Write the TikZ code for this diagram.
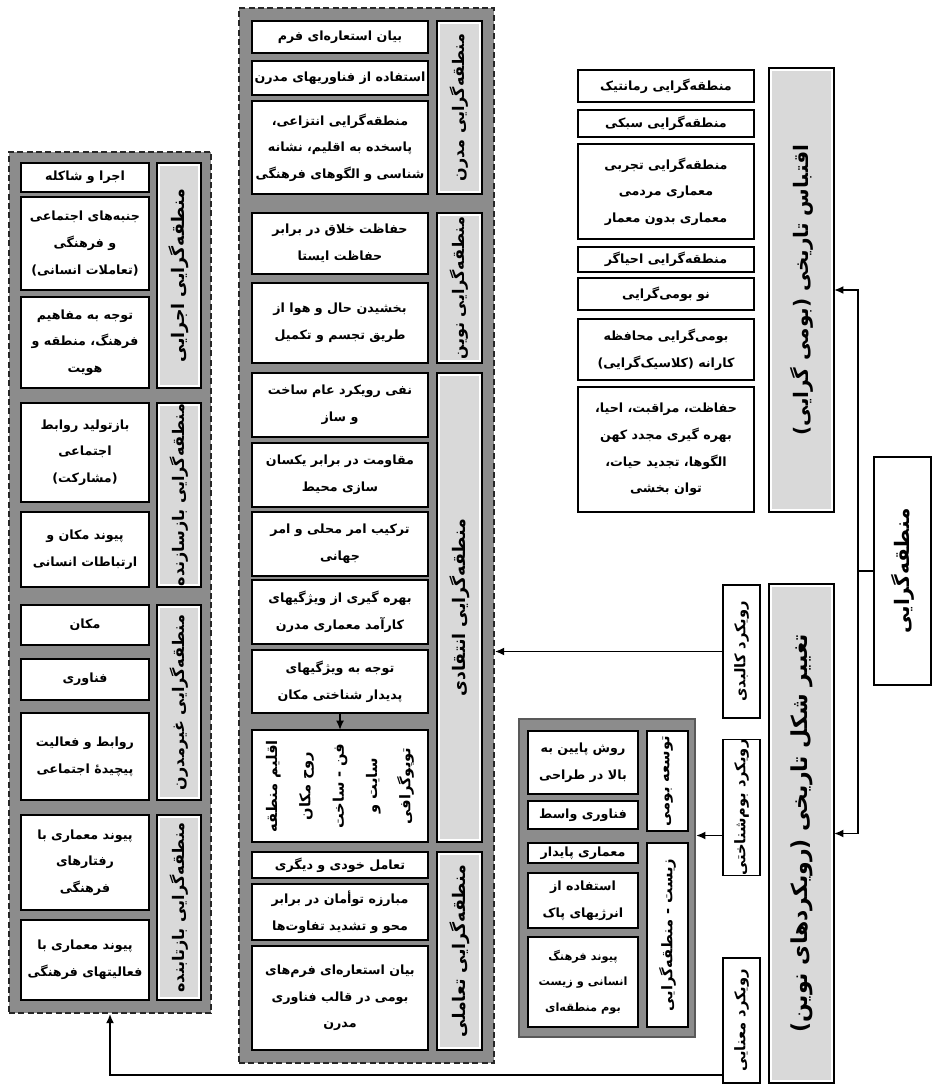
\documentclass[tikz,border=0pt]{standalone}
\usepackage{fontspec}
\usepackage{tikz}
\usetikzlibrary{arrows.meta}
\newfontfamily\arabicfont[Script=Arabic]{DejaVu Sans}
\TeXXeTstate=1
\definecolor{boxgray}{RGB}{140,140,140}
\definecolor{lblgray}{RGB}{217,217,217}
\newcommand{\fa}[1]{\beginR#1\endR}
% box from corner (x1,y1) to (x2,y2), pixels
\newcommand{\mkbox}[7][cell]{\node[#1, minimum width={(#5-#3)*0.75pt}, minimum height={(#6-#4)*0.75pt}] (#2) at ({(#3+#5)/2},{(#4+#6)/2}) {#7};}
% same box, text turned on its side
\newcommand{\mkvbox}[7][vcell]{\node[#1, rotate=90, minimum width={(#6-#4)*0.75pt}, minimum height={(#5-#3)*0.75pt}] (#2) at ({(#3+#5)/2},{(#4+#6)/2}) {#7};}
% grey title bar with a white rim
\newcommand{\mklabel}[7][]{\draw[rim] (#3,#4) rectangle (#5,#6); \fill[lblgray] ({#3+3},{#4+3}) rectangle ({#5-3},{#6-3}); \mkvbox[vtxt,#1]{#2}{#3}{#4}{#5}{#6}{#7}}
\tikzset{
  txt/.style={align=center, inner sep=0pt, outer sep=0pt, font=\arabicfont\bfseries\fontsize{9.5}{20}\selectfont},
  cell/.style={txt, draw, line width=1pt, fill=white},
  vcell/.style={cell, font=\arabicfont\bfseries\fontsize{11}{13}\selectfont},
  colbox/.style={cell, font=\arabicfont\bfseries\fontsize{11}{25}\selectfont},
  rootbox/.style={cell, font=\arabicfont\bfseries\fontsize{15}{17}\selectfont},
  vtxt/.style={txt, font=\arabicfont\bfseries\fontsize{12}{14}\selectfont},
  bigtxt/.style={txt, font=\arabicfont\bfseries\fontsize{15}{17}\selectfont},
  rim/.style={draw, line width=1pt, fill=white},
  grp/.style={draw=black!85, line width=1.3pt, dash pattern=on 4.5pt off 2.5pt, fill=boxgray, inner sep=0pt},
  lowgrp/.style={draw=black!65, line width=1.6pt, fill=boxgray, inner sep=0pt},
  link/.style={line width=1.3pt},
  arr/.style={link, -{Latex[length=7pt,width=6pt]}},
}

\begin{document}
\begin{tikzpicture}[x=0.75pt, y=-0.75pt]
\useasboundingbox (0,0) rectangle (932,1084);

% left column
\mkbox[grp]{leftcol}{9}{152}{211}{1013}{}
\mklabel[font=\arabicfont\bfseries\fontsize{13}{15}\selectfont]{ejraei}{157}{163}{201}{388}{\fa{منطقه‌گرایی اجرایی}}
\mkbox{a1}{21}{163}{149}{192}{\fa{اجرا و شاکله}}
\mkbox{a2}{21}{197}{149}{290}{\fa{جنبه‌های اجتماعی}\\ \fa{و فرهنگی}\\ \fa{(تعاملات انسانی)}}
\mkbox{a3}{21}{297}{149}{388}{\fa{توجه به مفاهیم}\\ \fa{فرهنگ، منطقه و}\\ \fa{هویت}}
\mklabel{bazsazande}{157}{403}{201}{587}{\fa{منطقه‌گرایی بازسازنده}}
\mkbox{b1}{21}{403}{149}{502}{\fa{بازتولید روابط}\\ \fa{اجتماعی}\\ \fa{(مشارکت)}}
\mkbox{b2}{21}{512}{149}{587}{\fa{پیوند مکان و}\\ \fa{ارتباطات انسانی}}
\mklabel{gheirmodern}{157}{605}{201}{800}{\fa{منطقه‌گرایی غیرمدرن}}
\mkbox{c1}{21}{605}{149}{645}{\fa{مکان}}
\mkbox{c2}{21}{659}{149}{700}{\fa{فناوری}}
\mkbox{c3}{21}{713}{149}{800}{\fa{روابط و فعالیت}\\ \fa{پیچیدهٔ اجتماعی}}
\mklabel{baztabande}{157}{815}{201}{1000}{\fa{منطقه‌گرایی بازتابنده}}
\mkbox{d1}{21}{815}{149}{910}{\fa{پیوند معماری با}\\ \fa{رفتارهای}\\ \fa{فرهنگی}}
\mkbox{d2}{21}{920}{149}{1000}{\fa{پیوند معماری با}\\ \fa{فعالیتهای فرهنگی}}

% middle column
\mkbox[grp]{midcol}{239}{8}{494}{1063}{}
\mklabel{modern}{437}{21}{482}{194}{\fa{منطقه‌گرایی مدرن}}
\mkbox{m1}{252}{21}{428}{53}{\fa{بیان استعاره‌ای فرم}}
\mkbox{m2}{252}{61}{428}{95}{\fa{استفاده از فناوریهای مدرن}}
\mkbox{m3}{252}{101}{428}{194}{\fa{منطقه‌گرایی انتزاعی،}\\ \fa{پاسخده به اقلیم، نشانه}\\ \fa{شناسی و الگوهای فرهنگی}}
\mklabel{novin}{437}{213}{482}{363}{\fa{منطقه‌گرایی نوین}}
\mkbox{n1}{252}{213}{428}{274}{\fa{حفاظت خلاق در برابر}\\ \fa{حفاظت ایستا}}
\mkbox{n2}{252}{283}{428}{363}{\fa{بخشیدن حال و هوا از}\\ \fa{طریق تجسم و تکمیل}}
\mklabel[font=\arabicfont\bfseries\fontsize{13}{15}\selectfont]{enteghadi}{437}{373}{482}{842}{\fa{منطقه‌گرایی انتقادی}}
\mkbox{k1}{252}{373}{428}{437}{\fa{نفی رویکرد عام ساخت}\\ \fa{و ساز}}
\mkbox{k2}{252}{443}{428}{507}{\fa{مقاومت در برابر یکسان}\\ \fa{سازی محیط}}
\mkbox{k3}{252}{512}{428}{576}{\fa{ترکیب امر محلی و امر}\\ \fa{جهانی}}
\mkbox{k4}{252}{580}{428}{644}{\fa{بهره گیری از ویژگیهای}\\ \fa{کارآمد معماری مدرن}}
\mkbox{k5}{252}{650}{428}{713}{\fa{توجه به ویژگیهای}\\ \fa{پدیدار شناختی مکان}}
\mkvbox[colbox]{k6}{252}{730}{428}{842}{\fa{اقلیم منطقه}\\ \fa{روح مکان}\\ \fa{فن - ساخت}\\ \fa{سایت و}\\ \fa{توپوگرافی}}
\mklabel[font=\arabicfont\bfseries\fontsize{13}{15}\selectfont]{taamoli}{437}{852}{482}{1050}{\fa{منطقه‌گرایی تعاملی}}
\mkbox{t1}{252}{852}{428}{878}{\fa{تعامل خودی و دیگری}}
\mkbox{t2}{252}{884}{428}{940}{\fa{مبارزه توأمان در برابر}\\ \fa{محو و تشدید تفاوت‌ها}}
\mkbox{t3}{252}{946}{428}{1050}{\fa{بیان استعاره‌ای فرم‌های}\\ \fa{بومی در قالب فناوری}\\ \fa{مدرن}}
\draw[arr] (k5.south) -- (k6.east);

% lower grey box
\mkbox[lowgrp]{lowbox}{519}{719}{695}{1037}{}
\mkvbox{tosee}{647}{731}{688}{831}{\fa{توسعه بومی}}
\mkbox{r1}{528}{731}{638}{794}{\fa{روش پایین به}\\ \fa{بالا در طراحی}}
\mkbox{r2}{528}{801}{638}{829}{\fa{فناوری واسط}}
\mkvbox{zist}{647}{843}{688}{1027}{\fa{زیست - منطقه‌گرایی}}
\mkbox{s1}{528}{843}{638}{863}{\fa{معماری پایدار}}
\mkbox{s2}{528}{873}{638}{928}{\fa{استفاده از}\\ \fa{انرژیهای پاک}}
\mkbox[cell, font=\arabicfont\bfseries\fontsize{8.5}{19}\selectfont]{s3}{528}{937}{638}{1027}{\fa{پیوند فرهنگ}\\ \fa{انسانی و زیست}\\ \fa{بوم منطقه‌ای}}

% right side
\mklabel[bigtxt]{bar1}{769}{68}{834}{512}{\fa{اقتباس تاریخی (بومی گرایی)}}
\mkbox{h1}{578}{70}{754}{102}{\fa{منطقه‌گرایی رمانتیک}}
\mkbox{h2}{578}{110}{754}{137}{\fa{منطقه‌گرایی سبکی}}
\mkbox{h3}{578}{144}{754}{239}{\fa{منطقه‌گرایی تجربی}\\ \fa{معماری مردمی}\\ \fa{معماری بدون معمار}}
\mkbox{h4}{578}{247}{754}{272}{\fa{منطقه‌گرایی احیاگر}}
\mkbox{h5}{578}{278}{754}{310}{\fa{نو بومی‌گرایی}}
\mkbox{h6}{578}{319}{754}{380}{\fa{بومی‌گرایی محافظه}\\ \fa{کارانه (کلاسیک‌گرایی)}}
\mkbox{h7}{578}{387}{754}{512}{\fa{حفاظت، مراقبت، احیا،}\\ \fa{بهره گیری مجدد کهن}\\ \fa{الگوها، تجدید حیات،}\\ \fa{توان بخشی}}
\mklabel[bigtxt, font=\arabicfont\bfseries\fontsize{16.5}{18}\selectfont]{bar2}{769}{584}{834}{1083}{\fa{تغییر شکل تاریخی (رویکردهای نوین)}}
\mkvbox{kalbadi}{723}{585}{760}{718}{\fa{رویکرد کالبدی}}
\mkvbox{boom}{723}{748}{760}{867}{\fa{رویکرد بوم‌شناختی}}
\mkvbox{maanaei}{723}{958}{760}{1083}{\fa{رویکرد معنایی}}
\mkvbox[rootbox]{root}{874}{457}{931}{685}{\fa{منطقه‌گرایی}}

% connectors
\draw[link] (root.north) -- ++(-16,0) coordinate (fork);
\draw[arr] (fork) |- (bar1.south);
\draw[arr] (fork) |- (bar2.south);
\draw[arr] (kalbadi.north) -- (kalbadi.north -| midcol.east);
\draw[arr] ([yshift=-21pt]boom.north) coordinate (bw) -- (bw -| lowbox.east);
\draw[arr] ([yshift=-41pt]maanaei.north) -| (leftcol.south);

\end{tikzpicture}
\end{document}
